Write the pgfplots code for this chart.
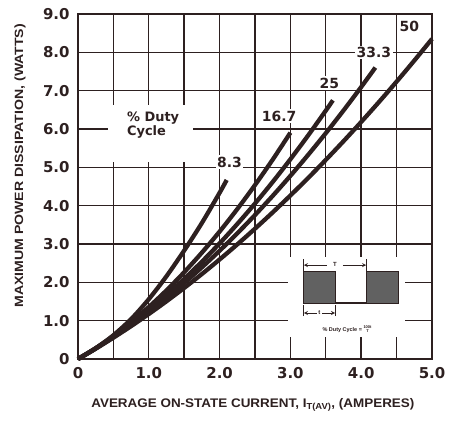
\documentclass[border=0pt]{standalone}
\usepackage{fontspec}
\setmainfont{Liberation Sans}
\newfontfamily\tickfont{DejaVu Sans}
\usepackage{pgfplots}
\pgfplotsset{compat=1.18}
\definecolor{ink}{RGB}{45,32,32}
\begin{document}
\begin{tikzpicture}
\useasboundingbox (-78bp,-63bp) rectangle (388bp,359bp);
\begin{axis}[
  scale only axis, width=354bp, height=345bp,
  xmin=0, xmax=5, ymin=0, ymax=9,
  xtick={0,1,2,3,4,5}, xticklabels={{0},{1.0},{2.0},{3.0},{4.0},{5.0}},
  minor xtick={0.5,1.5,2.5,3.5,4.5},
  ytick={0,1,2,3,4,5,6,7,8,9},
  yticklabels={{0},{1.0},{2.0},{3.0},{4.0},{5.0},{6.0},{7.0},{8.0},{9.0}},
  grid=both,
  major grid style={ink, line width=1.4bp},
  minor grid style={ink, line width=1.4bp},
  axis line style={ink, line width=2.4bp},
  tick style={draw=none},
  ticklabel style={font=\tickfont\bfseries\fontsize{15}{15}\selectfont, text=ink},
  xticklabel style={yshift=-5bp},
  yticklabel style={xshift=-5bp},
  xlabel={\scalebox{1.08}[1]{AVERAGE ON-STATE CURRENT, I\textsubscript{T(AV)}, (AMPERES)}},
  xlabel style={font=\bfseries\fontsize{12.5}{13}\selectfont, text=ink, at={(axis description cs:0.494,-0.133)}, anchor=center},
  ylabel={\scalebox{1.18}[1]{MAXIMUM POWER DISSIPATION, (WATTS)}},
  ylabel style={font=\bfseries\fontsize{12}{13}\selectfont, text=ink, at={(axis description cs:-0.164,0.56)}, anchor=center},
  clip=false,
]
% 8.3 % duty cycle
\addplot[ink, line width=4.3bp, smooth] coordinates {
 (0,0) (0.25,0.28) (0.5,0.62) (0.75,1.04) (1.0,1.56) (1.25,2.16)
 (1.5,2.83) (1.75,3.549) (2.0,4.336) (2.1,4.670)};
% 16.7
\addplot[ink, line width=4.3bp, smooth] coordinates {
 (0,0) (0.25,0.282) (0.5,0.602) (0.75,0.960) (1.0,1.356) (1.25,1.791)
 (1.5,2.264) (1.75,2.775) (2.0,3.324) (2.25,3.912) (2.5,4.538) (2.75,5.202) (3.0,5.904)};
% 25
\addplot[ink, line width=4.3bp, smooth] coordinates {
 (0,0) (0.25,0.277) (0.5,0.582) (0.75,0.916) (1.0,1.279) (1.25,1.670)
 (1.5,2.090) (1.75,2.539) (2.0,3.016) (2.25,3.522) (2.5,4.056) (2.75,4.619)
 (3.0,5.211) (3.25,5.831) (3.5,6.480) (3.6,6.748)};
% 33.3
\addplot[ink, line width=4.3bp, smooth] coordinates {
 (0,0) (0.25,0.274) (0.5,0.570) (0.75,0.889) (1.0,1.231) (1.25,1.595)
 (1.5,1.982) (1.75,2.392) (2.0,2.824) (2.25,3.279) (2.5,3.756) (2.75,4.256)
 (3.0,4.779) (3.25,5.324) (3.5,5.892) (3.75,6.483) (4.0,7.096) (4.2,7.603)};
% 50
\addplot[ink, line width=4.3bp, smooth] coordinates {
 (0,0) (0.25,0.270) (0.5,0.556) (0.75,0.857) (1.0,1.174) (1.25,1.506)
 (1.5,1.854) (1.75,2.217) (2.0,2.596) (2.25,2.990) (2.5,3.400) (2.75,3.825)
 (3.0,4.266) (3.25,4.722) (3.5,5.194) (3.75,5.681) (4.0,6.184) (4.25,6.702)
 (4.5,7.236) (4.75,7.785) (5.0,8.35)};

% curve labels
\tikzset{clab/.style={fill=white, inner sep=1.5bp, text=ink, font=\tickfont\bfseries\fontsize{14}{14}\selectfont}}
\node[clab] at (axis cs:2.14,5.14) {8.3};
\node[clab] at (axis cs:2.84,6.34) {16.7};
\node[clab] at (axis cs:3.55,7.20) {25};
\node[clab] at (axis cs:4.18,8.00) {33.3};
\node[clab] at (axis cs:4.68,8.67) {50};

% duty cycle note
\fill[white] (axis cs:0.43,5.14) rectangle (axis cs:1.62,6.63);
\node[anchor=west, align=left, text=ink, font=\tickfont\bfseries\fontsize{13}{13.5}\selectfont, inner sep=0pt]
  at (axis cs:0.69,6.1) {\% Duty\\Cycle};

% inset
\fill[white] (axis cs:2.97,0.57) rectangle (axis cs:4.62,2.65);
\filldraw[fill=black!62, draw=ink, line width=1bp] (axis cs:3.18,1.44) rectangle (axis cs:3.64,2.27);
\filldraw[fill=black!62, draw=ink, line width=1bp] (axis cs:4.08,1.44) rectangle (axis cs:4.53,2.27);
\draw[ink, line width=1.2bp] (axis cs:3.64,1.46) -- (axis cs:4.08,1.46);
\draw[ink, line width=0.8bp] (axis cs:3.18,2.30) -- (axis cs:3.18,2.60);
\draw[ink, line width=0.8bp] (axis cs:4.08,2.30) -- (axis cs:4.08,2.60);
\draw[ink, line width=0.8bp, <-, >=stealth] (axis cs:3.19,2.45) -- (axis cs:3.52,2.45);
\draw[ink, line width=0.8bp, ->, >=stealth] (axis cs:3.74,2.45) -- (axis cs:4.07,2.45);
\node[text=ink, font=\fontsize{6}{6}\selectfont\bfseries, inner sep=0pt] at (axis cs:3.63,2.47) {T};
\draw[ink, line width=0.8bp] (axis cs:3.18,1.12) -- (axis cs:3.18,1.42);
\draw[ink, line width=0.8bp] (axis cs:3.64,1.12) -- (axis cs:3.64,1.42);
\draw[ink, line width=0.8bp, <-, >=stealth] (axis cs:3.19,1.20) -- (axis cs:3.37,1.20);
\draw[ink, line width=0.8bp, ->, >=stealth] (axis cs:3.45,1.20) -- (axis cs:3.63,1.20);
\node[text=ink, font=\fontsize{6}{6}\selectfont\bfseries, inner sep=0pt] at (axis cs:3.41,1.21) {t};
\node[text=ink, font=\fontsize{5.5}{6}\selectfont\bfseries, inner sep=0pt] at (axis cs:3.80,0.78)
  {\% Duty Cycle = \raisebox{-0.35ex}{\shortstack{\fontsize{4}{4}\selectfont 100t\\[-1pt]\fontsize{4}{4}\selectfont T}}};
\end{axis}
\end{tikzpicture}
\end{document}
